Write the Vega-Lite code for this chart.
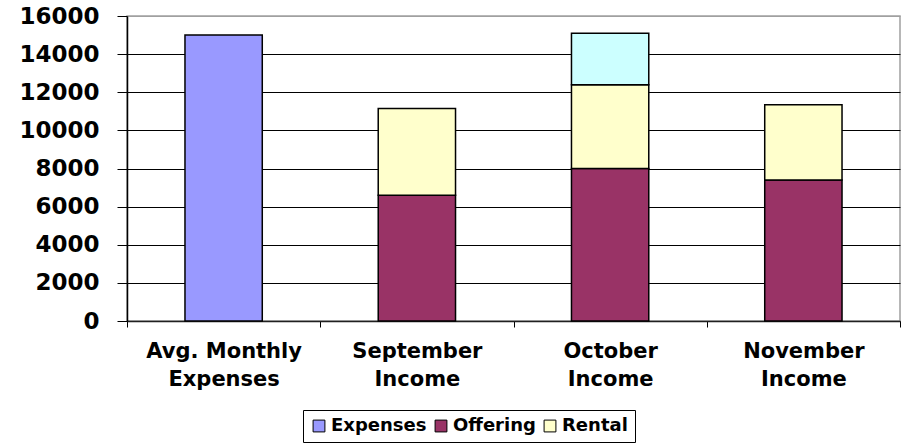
{
  "$schema": "https://vega.github.io/schema/vega-lite/v6.json",
  "width": 773,
  "height": 305,
  "autosize": "none",
  "padding": {"left": 127, "top": 16, "right": 5, "bottom": 126},
  "background": "white",
  "view": {"stroke": "#a0a0a0", "strokeWidth": 1.5},
  "data": {
    "values": [
      {"category": "Avg. Monthly Expenses", "series": "Expenses", "value": 15000, "ord": 0},
      {"category": "September Income", "series": "Offering", "value": 6600, "ord": 1},
      {"category": "September Income", "series": "Rental", "value": 4550, "ord": 2},
      {"category": "October Income", "series": "Offering", "value": 8000, "ord": 1},
      {"category": "October Income", "series": "Rental", "value": 4400, "ord": 2},
      {"category": "October Income", "series": "Other", "value": 2700, "ord": 3},
      {"category": "November Income", "series": "Offering", "value": 7400, "ord": 1},
      {"category": "November Income", "series": "Rental", "value": 3950, "ord": 2}
    ]
  },
  "mark": {"type": "bar", "width": {"band": 0.4}, "stroke": "black", "strokeWidth": 1.5},
  "encoding": {
    "x": {
      "field": "category",
      "type": "nominal",
      "sort": ["Avg. Monthly Expenses", "September Income", "October Income", "November Income"],
      "scale": {"paddingInner": 0, "paddingOuter": 0},
      "axis": {
        "title": null,
        "labelAngle": 0,
        "tickBand": "extent",
        "tickSize": 6,
        "tickColor": "black",
        "domainColor": "#202020",
        "domainWidth": 1.5,
        "labelFont": "DejaVu Sans",
        "labelFontWeight": "bold",
        "labelFontSize": 21,
        "labelColor": "black",
        "labelPadding": 13,
        "labelLineHeight": 28,
        "labelExpr": "!datum.value ? '' : (datum.value == 'Avg. Monthly Expenses' ? ['Avg. Monthly', 'Expenses'] : split(datum.value, ' '))"
      }
    },
    "y": {
      "field": "value",
      "type": "quantitative",
      "aggregate": "sum",
      "stack": "zero",
      "scale": {"domain": [0, 16000], "nice": false},
      "axis": {
        "title": null,
        "values": [0, 2000, 4000, 6000, 8000, 10000, 12000, 14000, 16000],
        "tickSize": 10,
        "tickColor": "black",
        "domainColor": "black",
        "domainWidth": 1.5,
        "grid": true,
        "gridColor": {"condition": {"test": "datum.value == 16000", "value": "#a0a0a0"}, "value": "black"},
        "gridWidth": 1.2,
        "labelFont": "DejaVu Sans",
        "labelFontWeight": "bold",
        "labelFontSize": 23,
        "labelColor": "black",
        "labelPadding": 18,
        "format": "d"
      }
    },
    "color": {
      "field": "series",
      "type": "nominal",
      "scale": {
        "domain": ["Expenses", "Offering", "Rental", "Other"],
        "range": ["#9999FF", "#993366", "#FFFFCC", "#CCFFFF"]
      },
      "legend": {
        "title": null,
        "values": ["Expenses", "Offering", "Rental"],
        "orient": "none",
        "direction": "horizontal",
        "legendX": 176,
        "legendY": 394,
        "strokeColor": "black",
        "padding": 7,
        "symbolType": "square",
        "symbolSize": 140,
        "symbolStrokeColor": "black",
        "symbolStrokeWidth": 1,
        "symbolOpacity": 1,
        "labelFont": "DejaVu Sans",
        "labelFontWeight": "bold",
        "labelFontSize": 18,
        "labelColor": "black",
        "labelOffset": 3,
        "columnPadding": 5
      }
    },
    "order": {"field": "ord", "type": "quantitative"}
  }
}
